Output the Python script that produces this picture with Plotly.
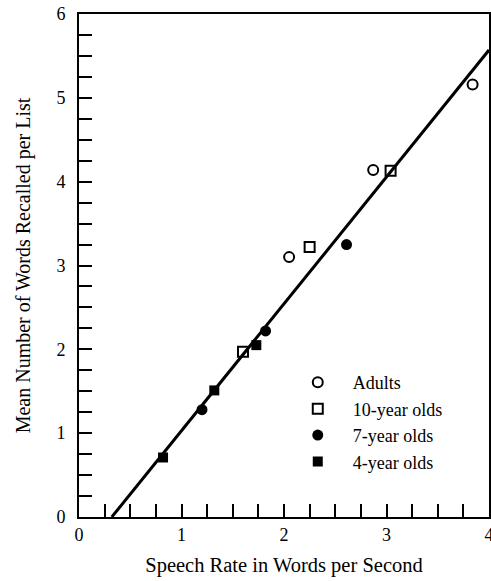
import plotly.graph_objects as go

# Data
adults_x = [2.05, 2.87, 3.84]
adults_y = [3.10, 4.14, 5.16]
ten_x = [1.60, 2.25, 3.04]
ten_y = [1.97, 3.22, 4.13]
seven_x = [1.20, 1.82, 2.61]
seven_y = [1.28, 2.22, 3.25]
four_x = [0.82, 1.32, 1.73]
four_y = [0.71, 1.51, 2.05]
fit_x = [0.32, 4.0]
fit_y = [0.0, 5.57]

FONT = "Liberation Serif"

fig = go.Figure()
fig.add_trace(go.Scatter(x=fit_x, y=fit_y, mode="lines",
                         line=dict(color="black", width=3), showlegend=False))
fig.add_trace(go.Scatter(x=adults_x, y=adults_y, mode="markers", name="Adults",
                         marker=dict(symbol="circle-open", size=10, color="black",
                                     line=dict(width=2, color="black"))))
fig.add_trace(go.Scatter(x=ten_x, y=ten_y, mode="markers", name="10-year olds",
                         marker=dict(symbol="square-open", size=10, color="black",
                                     line=dict(width=2, color="black"))))
fig.add_trace(go.Scatter(x=seven_x, y=seven_y, mode="markers", name="7-year olds",
                         marker=dict(symbol="circle", size=11, color="black")))
fig.add_trace(go.Scatter(x=four_x, y=four_y, mode="markers", name="4-year olds",
                         marker=dict(symbol="square", size=10, color="black")))

axis_common = dict(
    showline=True, linecolor="black", linewidth=2, mirror=True,
    showgrid=False, zeroline=False, automargin=False,
    ticklabeloverflow="allow",
    ticks="inside", ticklen=13, tickwidth=2, tickcolor="black",
    tickfont=dict(family=FONT, size=18, color="black"),
    minor=dict(dtick=0.25, ticks="inside", ticklen=13, tickwidth=2, tickcolor="black"),
)

fig.update_xaxes(range=[0, 4], dtick=1, tick0=0,
                 title=dict(text="Speech Rate in Words per Second",
                            font=dict(family=FONT, size=20.5, color="black"), standoff=14),
                 **axis_common)
fig.update_yaxes(range=[0, 6], dtick=1, tick0=0, ticklabelstandoff=8,
                 title=dict(text="Mean Number of Words Recalled per List",
                            font=dict(family=FONT, size=20, color="black"), standoff=20),
                 **axis_common)

fig.update_layout(
    width=491, height=581,
    margin=dict(l=79, r=2, t=14, b=64),
    plot_bgcolor="white", paper_bgcolor="white",
    legend=dict(x=0.497, y=0.304, xanchor="left", yanchor="top",
                font=dict(family=FONT, size=18, color="black"),
                bgcolor="rgba(0,0,0,0)", tracegroupgap=0, itemwidth=60),
    font=dict(family=FONT, color="black"),
)

fig.write_html("out.html", config={"displayModeBar": False},
               post_script="document.body.style.margin='0';document.body.style.overflow='hidden';")
